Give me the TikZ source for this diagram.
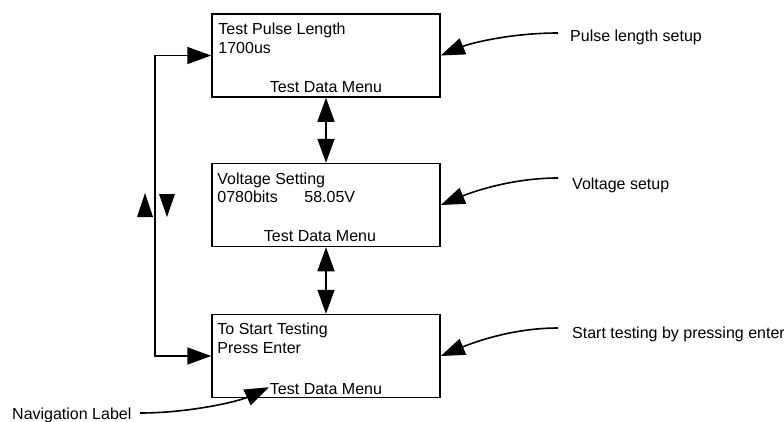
\documentclass[tikz,border=0pt]{standalone}
\usepackage{fontspec}
\setmainfont{Liberation Sans}
\usetikzlibrary{arrows.meta,calc}
\begin{document}
\begin{tikzpicture}[x=1pt,y=-1pt,
  box/.style={draw,line width=1.5pt,minimum width=228pt,minimum height=83pt,inner sep=0pt},
  txt/.style={anchor=base west,inner sep=0pt,font=\fontsize{16}{19}\selectfont},
  ctxt/.style={anchor=base,inner sep=0pt,font=\fontsize{16}{19}\selectfont},
  conn/.style={line width=1.6pt},
  bigtip/.tip={Triangle[length=24pt,width=17pt]}
]
\useasboundingbox (0,0) rectangle (784,421);

% boxes
\node[box] (box1) at (326,55.5) {};
\node[box] (box2) at (326,205) {};
\node[box] (box3) at (326,356) {};

% box texts
\node[txt] (t1a) at ($(box1.north west)+(7,21)$) {Test Pulse Length};
\node[txt] (t1b) at ($(box1.north west)+(7,40)$) {1700us};
\node[ctxt] (m1) at ($(box1.south)+(0,-5)$) {Test Data Menu};

\node[txt] (t2a) at ($(box2.north west)+(6,22)$) {Voltage Setting};
\node[txt] (t2b) at ($(box2.north west)+(6,40)$) {0780bits};
\node[txt] (t2c) at ($(box2.north west)+(93,40)$) {58.05V};
\node[ctxt] (m2) at ($(box2.south)+(-6,-6)$) {Test Data Menu};

\node[txt] (t3a) at ($(box3.north west)+(6,21)$) {To Start Testing};
\node[txt] (t3b) at ($(box3.north west)+(6,40)$) {Press Enter};
\node[ctxt] (m3) at ($(box3.south)+(0,-4)$) {Test Data Menu};

% annotation labels
\node[txt] (pl) at (570,41.5) {Pulse length setup};
\node[txt] (vs) at (572,189) {Voltage setup};
\node[txt] (st) at (572,338) {Start testing by pressing enter};
\node[txt] (nl) at (12,419) {Navigation Label};

% connector coordinates
\coordinate (pls) at (558,33);
\coordinate (vss) at (558,178);
\coordinate (sts) at (558,328);
\coordinate (nls) at (140,413);
\coordinate (nlt) at ($(m3.base west)+(-1,-7)$);
\coordinate (lx) at (155,0);

% vertical double arrows
\draw[conn,{bigtip}-{bigtip}] (box1.south) -- (box2.north);
\draw[conn,{bigtip}-{bigtip}] (box2.south) -- (box3.north);

% left loop
\draw[conn,{bigtip}-{bigtip}] (box1.west) -- (box1.west -| lx) -- (box3.west -| lx) -- (box3.west);

% up / down triangles
\fill (137,217) -- (153,217) -- (145,193) -- cycle;
\fill (159,194) -- (175,194) -- (167,217) -- cycle;

% annotation arrows
\draw[conn,-{bigtip}] (pls) .. controls +(-48,0) and +(29,-12) .. (box1.east);
\draw[conn,-{bigtip}] (vss) .. controls +(-48,0) and +(29,-12) .. (box2.east);
\draw[conn,-{bigtip}] (sts) .. controls +(-48,0) and +(29,-12) .. (box3.east);
\draw[conn,-{bigtip}] (nls) .. controls +(50,0) and +(-30,14) .. (nlt);
\end{tikzpicture}
\end{document}
